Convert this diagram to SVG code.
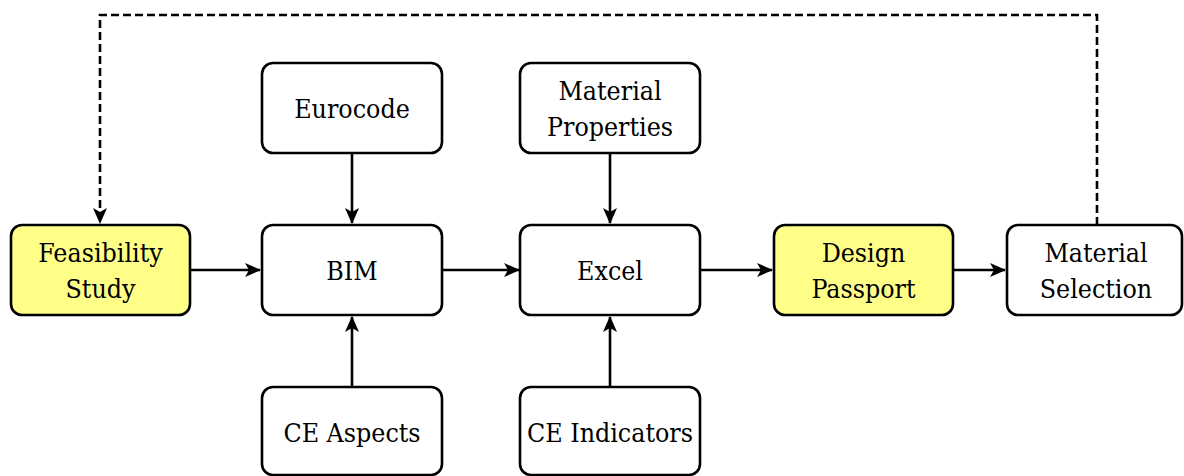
<svg xmlns="http://www.w3.org/2000/svg" width="1184" height="476" viewBox="0 0 1184 476">
<style>
.box{fill:#ffffff;stroke:#000;stroke-width:2.6}
.hl{fill:#ffff88;stroke:#000;stroke-width:2.6}
.c{fill:none;stroke:#000;stroke-width:2.6}
.d{stroke-dasharray:8 4}
</style>
<defs>
<marker id="ah" markerUnits="userSpaceOnUse" markerWidth="18" markerHeight="18" viewBox="0 0 18 18" refX="16" refY="9" orient="auto">
<path d="M1,2 L17,9 L1,16 L5,9 Z" fill="#000"/>
</marker>
</defs>
<rect width="1184" height="476" fill="#fff"/>
<g id="connectors">
<path class="c d" d="M1097,225 V15 H100 V223" marker-end="url(#ah)"/>
<path class="c" d="M190,270 H260" marker-end="url(#ah)"/>
<path class="c" d="M442,270 H519" marker-end="url(#ah)"/>
<path class="c" d="M700,270 H772" marker-end="url(#ah)"/>
<path class="c" d="M953,270 H1005" marker-end="url(#ah)"/>
<path class="c" d="M352,153 V223" marker-end="url(#ah)"/>
<path class="c" d="M610,153 V223" marker-end="url(#ah)"/>
<path class="c" d="M352,387 V317" marker-end="url(#ah)"/>
<path class="c" d="M610,387 V317" marker-end="url(#ah)"/>
</g>
<g font-family="DejaVu Serif Condensed, DejaVu Serif, serif" font-stretch="condensed" font-size="26.5" fill="#000" text-anchor="middle">
<g id="feasibility">
<rect class="hl" x="11" y="225" width="179" height="90" rx="11"/>
<text x="100.5" y="262">Feasibility</text>
<text x="100.5" y="298">Study</text>
</g>
<g id="bim">
<rect class="box" x="262" y="225" width="180" height="90" rx="11"/>
<text x="352" y="280">BIM</text>
</g>
<g id="eurocode">
<rect class="box" x="262" y="63" width="180" height="90" rx="11"/>
<text x="352" y="118">Eurocode</text>
</g>
<g id="ce-aspects">
<rect class="box" x="262" y="387" width="180" height="88" rx="11"/>
<text x="352" y="442">CE Aspects</text>
</g>
<g id="excel">
<rect class="box" x="520" y="225" width="180" height="90" rx="11"/>
<text x="610" y="280">Excel</text>
</g>
<g id="material-properties">
<rect class="box" x="520" y="63" width="180" height="90" rx="11"/>
<text x="610" y="100">Material</text>
<text x="610" y="136">Properties</text>
</g>
<g id="ce-indicators">
<rect class="box" x="520" y="387" width="180" height="88" rx="11"/>
<text x="610" y="442">CE Indicators</text>
</g>
<g id="design-passport">
<rect class="hl" x="774" y="225" width="179" height="90" rx="11"/>
<text x="863.5" y="262">Design</text>
<text x="863.5" y="298">Passport</text>
</g>
<g id="material-selection">
<rect class="box" x="1007" y="225" width="175" height="90" rx="11"/>
<text x="1096" y="262">Material</text>
<text x="1096" y="298">Selection</text>
</g>
</g>
</svg>
